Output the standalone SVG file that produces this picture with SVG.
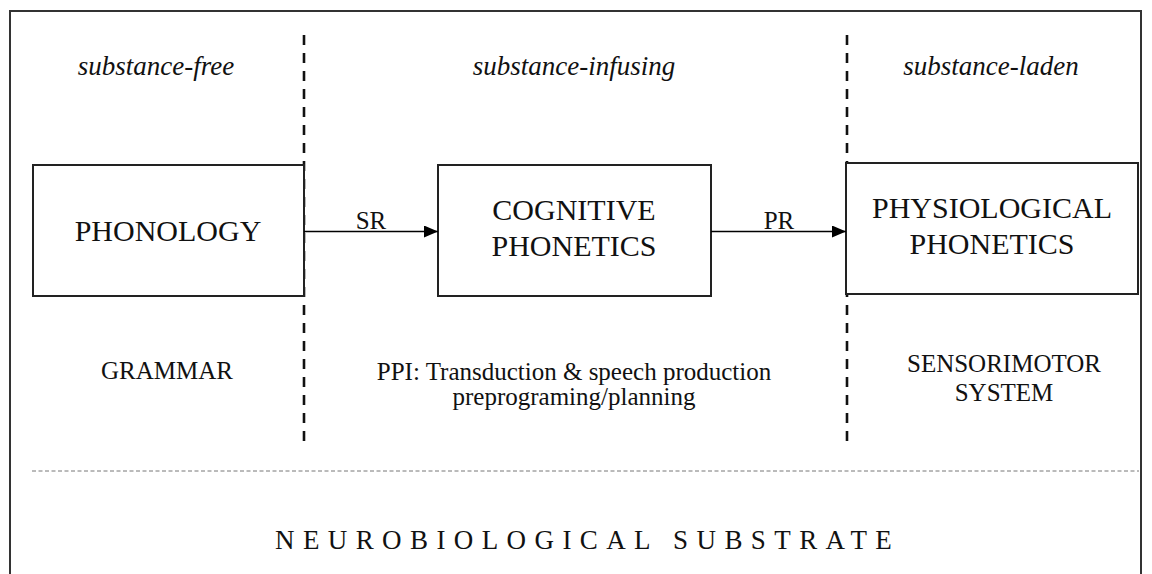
<svg xmlns="http://www.w3.org/2000/svg" width="1152" height="574" viewBox="0 0 1152 574">
<defs>
<marker id="arr" viewBox="0 0 14 12" refX="14" refY="6" markerWidth="14" markerHeight="12" markerUnits="userSpaceOnUse" orient="auto">
<path d="M0,0 L14,6 L0,12 Z" fill="#000"/>
</marker>
</defs>
<style>
text{font-family:"Liberation Serif","Times New Roman",serif;fill:#111}
.hdr{font-size:27px;font-style:italic;text-anchor:middle}
.box{fill:#fff;stroke:#222;stroke-width:2}
.big{font-size:30px;text-anchor:middle}
.mid{font-size:25px;text-anchor:middle}
.div{stroke:#111;stroke-width:2.6;stroke-dasharray:10 8;fill:none}
.conn{stroke:#000;stroke-width:1.3;fill:none}
</style>
<rect width="1152" height="574" fill="#fff"/>
<rect x="10" y="11" width="1131" height="620" fill="none" stroke="#333" stroke-width="2"/>
<g id="dividers">
<line class="div" x1="304" y1="35" x2="304" y2="448"/>
<line class="div" x1="847" y1="35" x2="847" y2="448"/>
<line x1="32" y1="471" x2="1139" y2="471" stroke="#777" stroke-width="1" stroke-dasharray="4 2.5"/>
</g>
<g id="headers">
<text class="hdr" x="156" y="75">substance-free</text>
<text class="hdr" x="574" y="75">substance-infusing</text>
<text class="hdr" x="991" y="75">substance-laden</text>
</g>
<g id="phonology">
<rect class="box" x="33" y="165" width="271" height="131"/>
<text class="big" x="168" y="241">PHONOLOGY</text>
</g>
<g id="cognitive">
<rect class="box" x="438" y="165" width="273" height="131"/>
<text class="big" x="574" y="220">COGNITIVE</text>
<text class="big" x="574" y="256">PHONETICS</text>
</g>
<g id="physiological">
<rect class="box" x="846" y="163" width="292" height="131"/>
<text class="big" x="992" y="218">PHYSIOLOGICAL</text>
<text class="big" x="992" y="254">PHONETICS</text>
</g>
<g id="connectors">
<line class="conn" x1="304" y1="231.5" x2="438" y2="231.5" marker-end="url(#arr)"/>
<line class="conn" x1="711" y1="231.5" x2="846" y2="231.5" marker-end="url(#arr)"/>
<text class="mid" x="371" y="229">SR</text>
<text class="mid" x="779" y="229">PR</text>
</g>
<g id="grammar">
<text class="mid" x="167" y="379">GRAMMAR</text>
</g>
<g id="ppi">
<text class="mid" x="574" y="380">PPI: Transduction &amp; speech production</text>
<text class="mid" x="574" y="405">preprograming/planning</text>
</g>
<g id="sensorimotor">
<text class="mid" x="1004" y="372">SENSORIMOTOR</text>
<text class="mid" x="1004" y="401">SYSTEM</text>
</g>
<g id="substrate">
<text x="275" y="549" font-size="27" letter-spacing="8.4">NEUROBIOLOGICAL SUBSTRATE</text>
</g>
</svg>
